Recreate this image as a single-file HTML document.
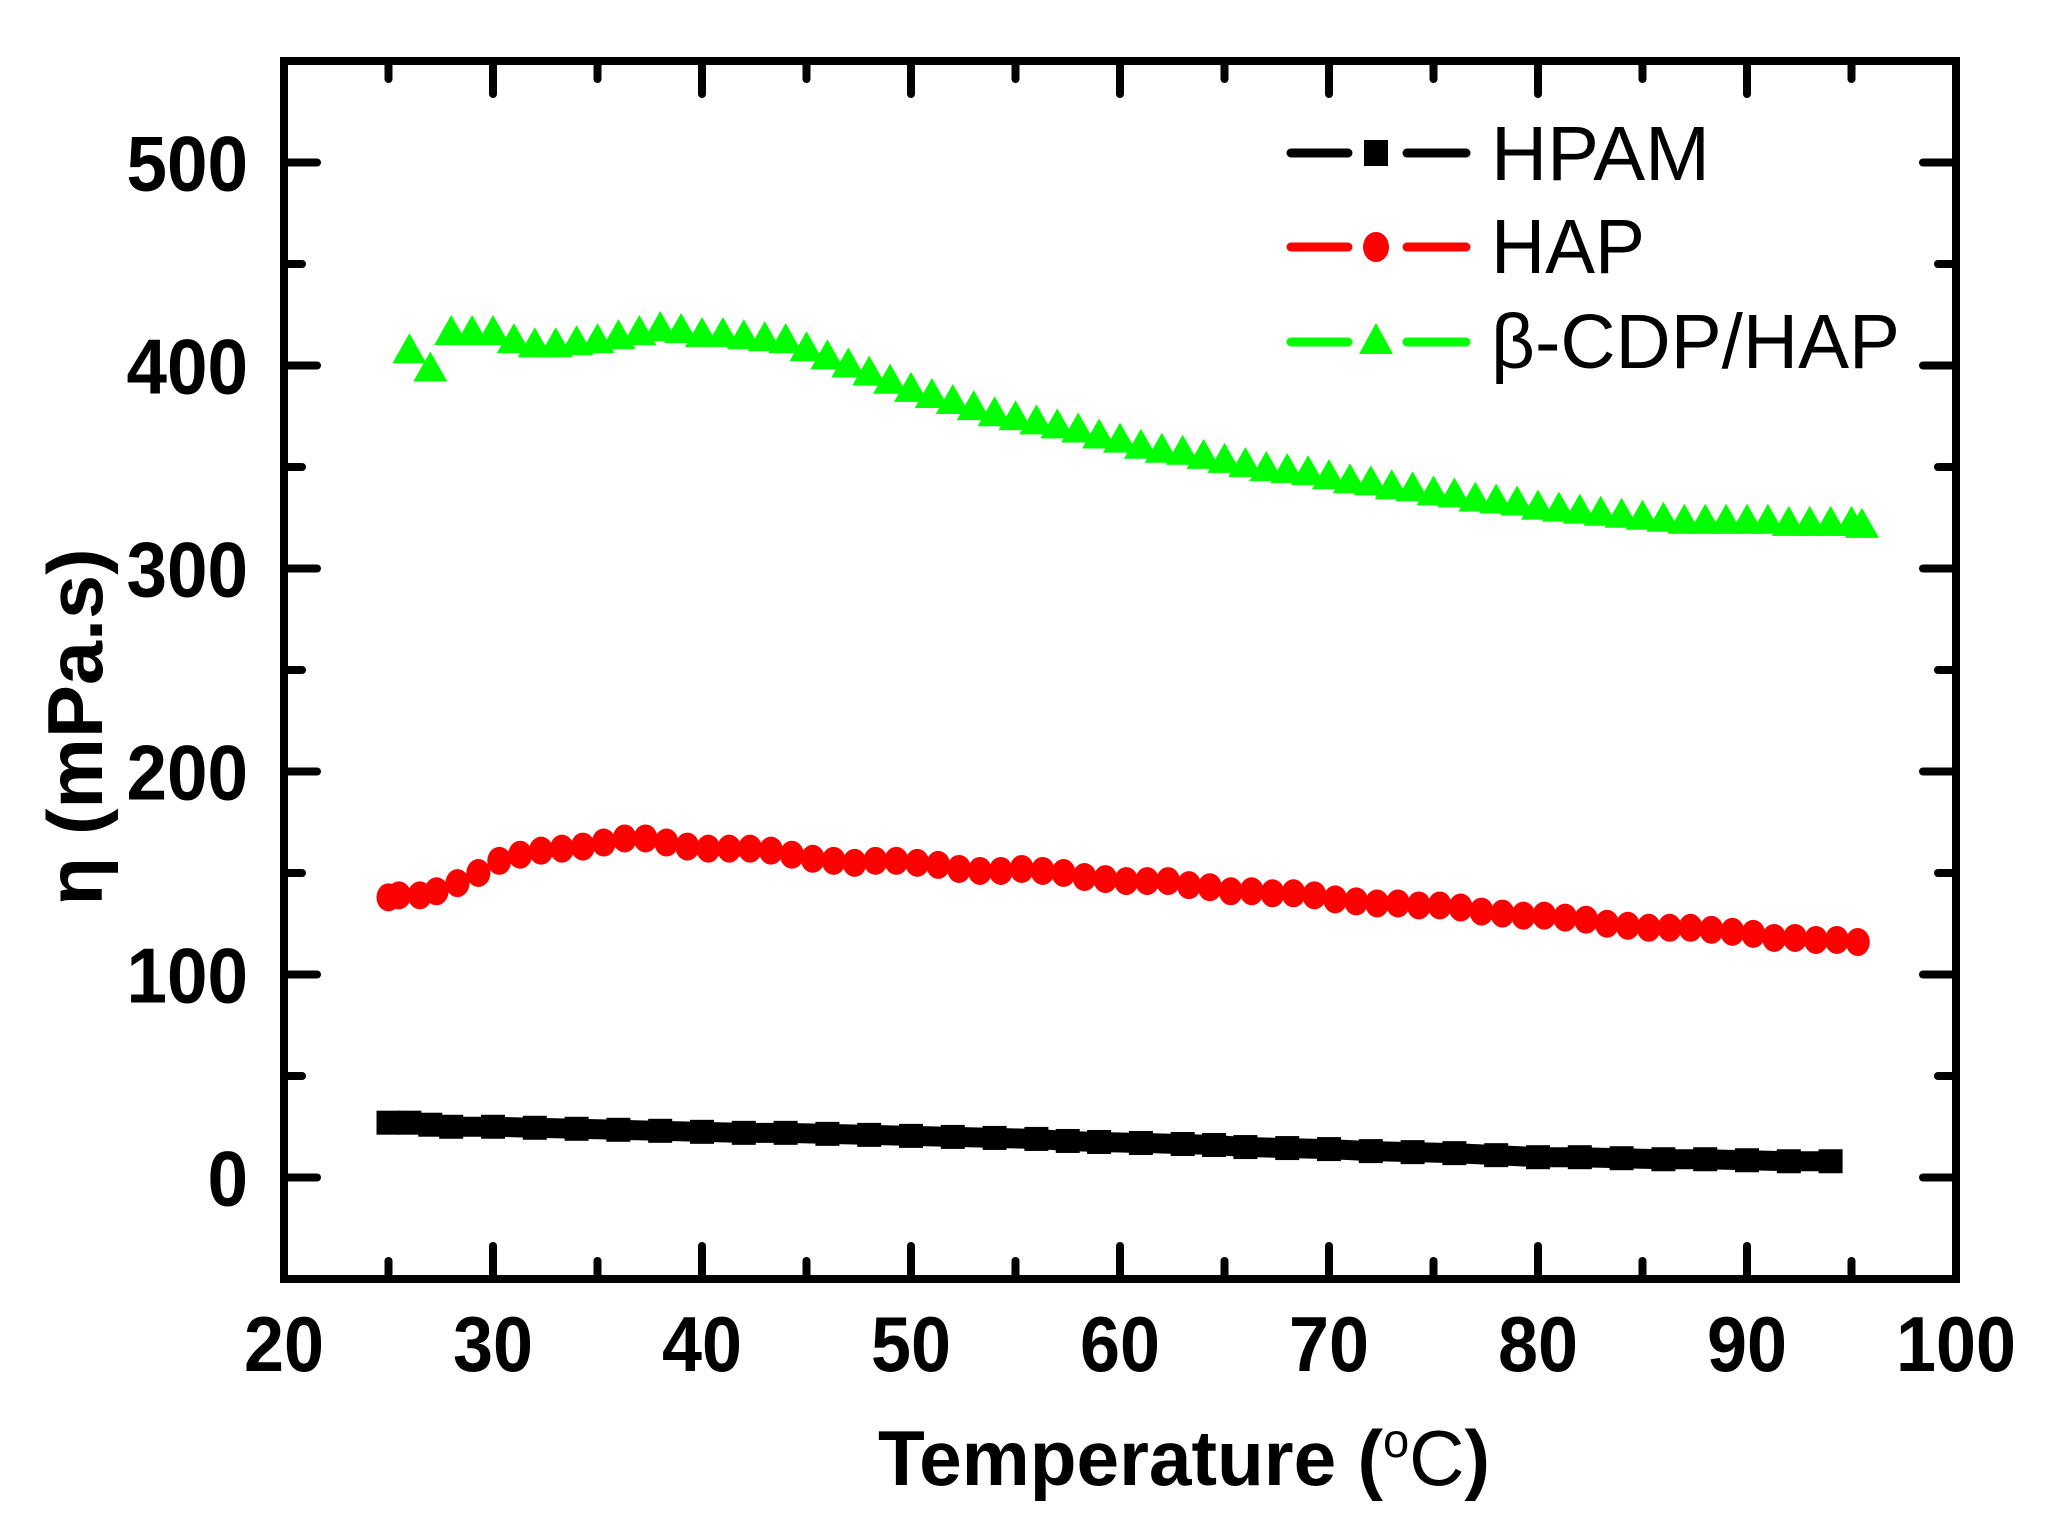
<!DOCTYPE html>
<html><head><meta charset="utf-8"><style>
html,body{margin:0;padding:0;background:#fff;}
svg{display:block;font-family:"Liberation Sans",Arial,sans-serif;}
</style></head><body>
<svg id="chart" width="2055" height="1529" viewBox="0 0 2055 1529" xmlns="http://www.w3.org/2000/svg">
<g id="marks"></g>
<g id="axes"></g>
<g id="legend">
  <g>
    <line x1="1291" y1="153" x2="1348" y2="153" stroke="#000" stroke-width="9" stroke-linecap="round"/>
    <line x1="1407" y1="153" x2="1466" y2="153" stroke="#000" stroke-width="9" stroke-linecap="round"/>
    <rect x="1364" y="140" width="24" height="26" fill="#000"/>
    <text x="1491" y="180" font-size="77" textLength="219" lengthAdjust="spacingAndGlyphs" fill="#000">HPAM</text>
  </g>
  <g>
    <line x1="1291" y1="247" x2="1348" y2="247" stroke="#ff0000" stroke-width="9" stroke-linecap="round"/>
    <line x1="1407" y1="247" x2="1466" y2="247" stroke="#ff0000" stroke-width="9" stroke-linecap="round"/>
    <ellipse cx="1376" cy="247" rx="13" ry="15" fill="#ff0000"/>
    <text x="1491" y="273" font-size="77" textLength="154" lengthAdjust="spacingAndGlyphs" fill="#000">HAP</text>
  </g>
  <g>
    <line x1="1291" y1="342" x2="1348" y2="342" stroke="#00ff00" stroke-width="9" stroke-linecap="round"/>
    <line x1="1407" y1="342" x2="1466" y2="342" stroke="#00ff00" stroke-width="9" stroke-linecap="round"/>
    <polygon points="1376,323 1393,354 1359,354" fill="#00ff00"/>
    <text x="1491" y="368" font-size="77" textLength="409" lengthAdjust="spacingAndGlyphs" fill="#000">β-CDP/HAP</text>
  </g>
</g>
</svg>
<script>
const xTicks = [20,30,40,50,60,70,80,90,100];
const yTicks = [0,100,200,300,400,500];
const hpamT = [25,26,27,28,30,32,34,36,38,40,42,44,46,48,50,52,54,56,57.5,59,61,63,64.5,66,68,70,72,74,76,78,80,82,84,86,88,90,92,94];
const hpamV = [27,27,26,25,25,24.5,24,23.5,23,22.5,22,22,21.5,21,20.5,20,19.5,19,18,17.5,17,16.5,16,15,14.5,14,13,12.5,12,11,10,10,9.5,9,9,8.5,8,8];
const hapT = [25,25.5,26.5,27.3,28.3,29.3,30.3,31.3,32.3,33.3,34.3,35.3,36.3,37.3,38.3,39.3,40.3,41.3,42.3,43.3,44.3,45.3,46.3,47.3,48.3,49.3,50.3,51.3,52.3,53.3,54.3,55.3,56.3,57.3,58.3,59.3,60.3,61.3,62.3,63.3,64.3,65.3,66.3,67.3,68.3,69.3,70.3,71.3,72.3,73.3,74.3,75.3,76.3,77.3,78.3,79.3,80.3,81.3,82.3,83.3,84.3,85.3,86.3,87.3,88.3,89.3,90.3,91.3,92.3,93.3,94.3,95.3];
const hapV = [138,139,139,141,145,150,156,159,161,162,163,165,167,167,165,163,162,162,162,161,159,157,156,155,156,156,155,154,152,151,151,152,151,150,148,147,146,146,146,144,143,141,141,140,140,139,137,136,135,135,134,134,133,131,130,129,129,128,127,125,124,123,123,123,122,121,120,118,118,117,117,116];
const cdpT = [26,27,28,29,30,31,32,33,34,35,36,37,38,39,40,41,42,43,44,45,46,47,48,49,50,51,52,53,54,55,56,57,58,59,60,61,62,63,64,65,66,67,68,69,70,71,72,73,74,75,76,77,78,79,80,81,82,83,84,85,86,87,88,89,90,91,92,93,94,95,95.5];
const cdpV = [407,398,416,416,416,412,410,410,411,412,414,416,418,417,415,415,414,413,412,408,404,400,396,392,388,385,382,379,376,374,372,370,368,365,363,360,358,357,355,353,351,349,348,347,345,343,342,340,339,337,336,334,333,332,330,329,328,327,326,325,324,323,323,323,323,323,322,322,322,322,321];

const NS='http://www.w3.org/2000/svg';
const L=284,R=1956,T=61,B=1279;
function xs(v){return L+(v-20)/80*(R-L);}
function ys(v){return B-(v+50)/600*(B-T);}
function mk(tag,attrs,parent){const e=document.createElementNS(NS,tag);for(const k in attrs)e.setAttribute(k,attrs[k]);parent.appendChild(e);return e;}
const marks=document.getElementById('marks'), axes=document.getElementById('axes');

// HPAM
const gH=mk('g',{},marks);


let p='';hpamT.forEach((t,i)=>{p+=(i?'L':'M')+xs(t)+','+ys(hpamV[i]);});
const lh=mk('path',{d:p,stroke:'#000','stroke-width':20,fill:'none'},gH);


hpamT.forEach((t,i)=>{const r=mk('rect',{x:xs(t)-12,y:ys(hpamV[i])-12,width:24,height:24,fill:'#000'},gH);

});

// HAP
const gA=mk('g',{},marks);


hapT.forEach((t,i)=>{const c=mk('ellipse',{cx:xs(t),cy:ys(hapV[i]),rx:12,ry:14,fill:'#ff0000'},gA);

});

// CDP
const gC=mk('g',{},marks);


cdpT.forEach((t,i)=>{const x=xs(t),y=ys(cdpV[i]);
const q=mk('polygon',{points:`${x},${y-18} ${x+17},${y+12} ${x-17},${y+12}`,fill:'#00ff00'},gC);

});

// frame
const fr=mk('rect',{x:L,y:T,width:R-L,height:B-T,fill:'none',stroke:'#000','stroke-width':8},axes);


// ticks
for(let v=20;v<=100;v+=5){const x=xs(v);const len=(v%10===0)?33:18;
mk('line',{x1:x,y1:B,x2:x,y2:B-len,stroke:'#000','stroke-width':8,'stroke-linecap':'round'},axes);
mk('line',{x1:x,y1:T,x2:x,y2:T+len,stroke:'#000','stroke-width':8,'stroke-linecap':'round'},axes);}
for(let v=-50;v<=550;v+=50){const y=ys(v);const len=(v%100===0)?33:18;
mk('line',{x1:L,y1:y,x2:L+len,y2:y,stroke:'#000','stroke-width':8,'stroke-linecap':'round'},axes);
mk('line',{x1:R,y1:y,x2:R-len,y2:y,stroke:'#000','stroke-width':8,'stroke-linecap':'round'},axes);}
xTicks.forEach(v=>{const w=String(v).length*40;
const t=mk('text',{x:xs(v)-w/2,y:1371,'font-size':78,'font-weight':'bold',textLength:w,lengthAdjust:'spacingAndGlyphs'},axes);t.textContent=v;

});
yTicks.forEach(v=>{const w=String(v).length*40.5;
const t=mk('text',{x:248-w,y:ys(v)+28,'font-size':78,'font-weight':'bold',textLength:w,lengthAdjust:'spacingAndGlyphs'},axes);t.textContent=v;

});
const xt=mk('text',{x:1184,y:1485,'font-size':78,'font-weight':'bold','text-anchor':'middle',textLength:612,lengthAdjust:'spacingAndGlyphs'},axes);
xt.innerHTML='Temperature (<tspan dy="-28" font-size="48" font-weight="normal">o</tspan><tspan dy="28" font-weight="normal">C</tspan>)';


const yt=mk('text',{x:0,y:0,'font-size':78,'font-weight':'bold','text-anchor':'middle',textLength:357,lengthAdjust:'spacingAndGlyphs',transform:'translate(102,727) rotate(-90)'},axes);
yt.textContent='η (mPa.s)';


</script>
</body></html>
